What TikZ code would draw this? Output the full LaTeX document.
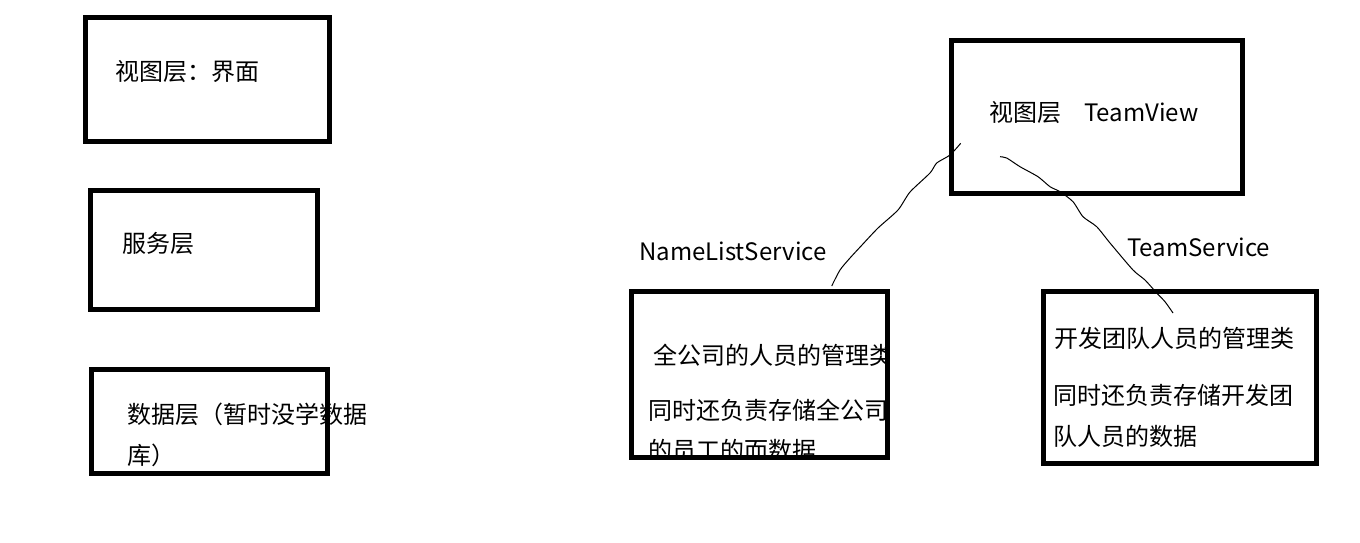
\documentclass[tikz,border=0pt]{standalone}
\usepackage{fontspec}
\setmainfont{Noto Sans CJK SC}
\usetikzlibrary{positioning}
\begin{document}
\begin{tikzpicture}[x=1pt,y=-1pt,
    layer/.style={draw,line width=5pt,anchor=north west,inner sep=0pt,outer sep=0pt},
    txt/.style={anchor=west,inner sep=0pt,font=\fontsize{24}{40}\selectfont},
    link/.style={line width=1pt,line join=round}]
  \useasboundingbox (0,0) rectangle (1360,542);
  % left column: the three layers
  \node[layer,minimum width=244pt,minimum height=124pt] (viewbox) at (85.5,17.5) {};
  \node[txt] (viewtxt) at (115,72) {视图层：界面};
  \node[layer,minimum width=227pt,minimum height=119pt] (servbox) at (90.5,190.5) {};
  \node[txt] (servtxt) at (122,243) {服务层};
  \node[layer,minimum width=236pt,minimum height=104pt] (databox) at (91.5,369.5) {};
  \node[txt] (datatxt) at (127,414) {数据层（暂时没学数据};
  \node[txt] (datatxtb) at (127,455) {库）};
  % right: TeamView and its two services
  \node[layer,minimum width=291pt,minimum height=153pt] (teamview) at (951.5,40.5) {};
  \node[txt] (tvtxt) at (989,113) {视图层\hspace{23pt}TeamView};
  \node[txt] (nlslabel) at (639,251) {NameListService};
  \node[txt] (tslabel) at (1127,247) {TeamService};
  \node[layer,minimum width=256pt,minimum height=166pt] (namelist) at (631.5,291.5) {};
  \begin{scope}
    \clip (namelist.north west) rectangle (namelist.south east);
    \node[txt] (nlsa) at (653,355) {全公司的人员的管理类};
    \node[txt] (nlsb) at (648,410) {同时还负责存储全公司};
    \node[txt] (nlsc) at (648,450) {的员工的而数据};
  \end{scope}
  \node[layer,minimum width=256pt,minimum height=166pt] at (631.5,291.5) {};
  \node[layer,minimum width=273pt,minimum height=172pt] (teamserv) at (1043.5,291.5) {};
  \node[txt] (tsa) at (1054,338) {开发团队人员的管理类};
  \node[txt] (tsb) at (1053,395) {同时还负责存储开发团};
  \node[txt] (tsc) at (1053,436) {队人员的数据};
  % hand drawn links
  \coordinate (tvleft) at (960.7,143.3);
  \coordinate (nlstop) at (831.7,286);
  \coordinate (tvright) at (1000,156.7);
  \coordinate (tstop) at (1173,313);
  \draw[link] plot[smooth,tension=0.4] coordinates {(tvleft) (950,155) (936.7,163) (930,173)
    (910,192) (898,210) (878,228) (862,245) (850,258) (840,270) (nlstop)};
  \draw[link] plot[smooth,tension=0.4] coordinates {(tvright) (1006.7,158) (1020,166.7) (1038,176.7)
    (1050,186.7) (1060,191.7) (1073,201.7) (1083,216.7) (1096.7,226.7) (1110,243) (1133,270)
    (1145,280) (1156.7,293) (1165,301.7) (tstop)};
\end{tikzpicture}
\end{document}
